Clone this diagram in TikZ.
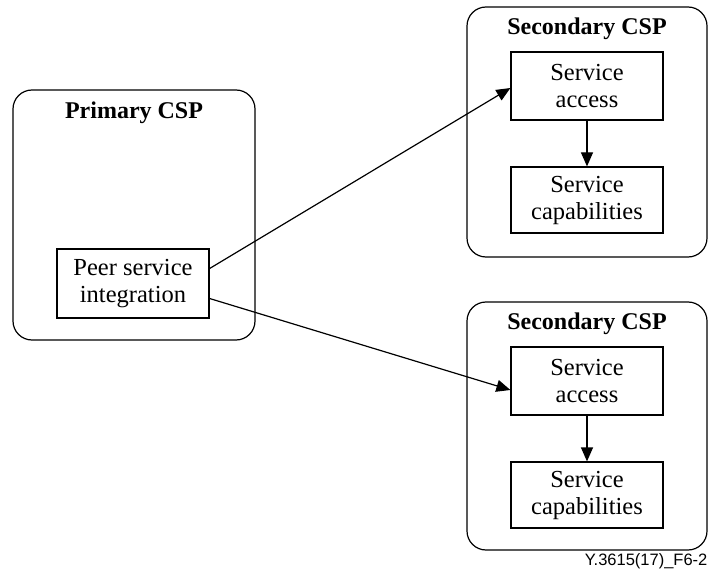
\documentclass[tikz,border=0pt]{standalone}
\usepackage{fontspec}
\setmainfont{Liberation Serif}
\setsansfont{Liberation Sans}
\usetikzlibrary{arrows.meta}
\begin{document}
\begin{tikzpicture}[x=1pt,y=-1pt, line width=1.2pt,
  container/.style={draw, rounded corners=19pt, inner sep=0pt},
  box/.style={draw, minimum width=152pt, align=center, inner sep=0pt,
    font=\fontsize{24.5}{27}\selectfont},
  title/.style={anchor=base, inner sep=0pt, font=\fontsize{24}{27}\selectfont\bfseries},
  arr/.style={-{Triangle[length=14pt,width=12pt]}}]
\useasboundingbox (0,0) rectangle (710,572);
% containers
\node[container, minimum width=242pt, minimum height=250pt] (prim) at (134,215) {};
\node[container, minimum width=240pt, minimum height=250pt] (sec1) at (587,132) {};
\node[container, minimum width=240pt, minimum height=248pt] (sec2) at (587,426) {};
% titles
\node[title] (tprim) at (134,119) {Primary CSP};
\node[title] (tsec1) at (587,35) {Secondary CSP};
\node[title] (tsec2) at (587,330) {Secondary CSP};
% inner boxes
\node[box, minimum height=69pt] (peer) at (133,283.5) {Peer service\\integration};
\node[box, minimum height=68pt] (sa1) at (587,86) {Service\\access};
\node[box, minimum height=66pt] (sc1) at (587,200) {Service\\capabilities};
\node[box, minimum height=68pt] (sa2) at (587,381) {Service\\access};
\node[box, minimum height=66pt] (sc2) at (587,495) {Service\\capabilities};
% connectors
\draw[arr] ([yshift=15pt]peer.east) -- ([yshift=-2pt]sa1.west);
\draw[arr] ([yshift=-15pt]peer.east) -- ([yshift=-9pt]sa2.west);
\draw[arr] (sa1.south) -- (sc1.north);
\draw[arr] (sa2.south) -- (sc2.north);
% figure label
\node[anchor=base east, inner sep=0pt, font=\sffamily\fontsize{16.5}{19}\selectfont] (lbl) at (708,565) {Y.3615(17)\_F6-2};
\end{tikzpicture}
\end{document}
